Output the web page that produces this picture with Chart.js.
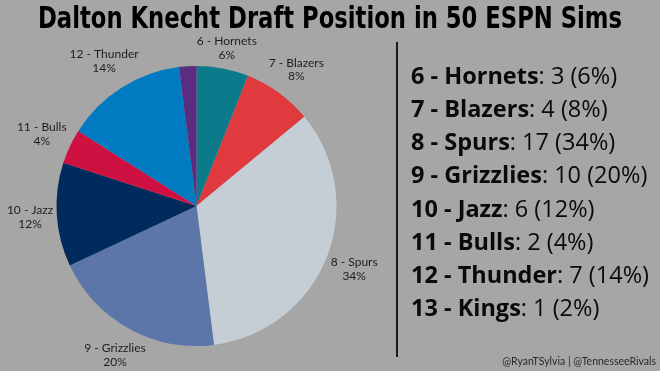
<!DOCTYPE html>
<html>
<head>
<meta charset="utf-8">
<script src="https://cdn.jsdelivr.net/npm/chart.js@4.4.0/dist/chart.umd.min.js"></script>
<style>
  html, body { margin: 0; padding: 0; background: #a6a6a6; }
  #wrap { width: 660px; height: 371px; }
</style>
</head>
<body>
<div id="wrap"><canvas id="chart" width="660" height="371"></canvas></div>
<script>
// Draft data from 50 ESPN mock sims
const chartTitle = 'Dalton Knecht Draft Position in 50 ESPN Sims';
const picks = ['6', '7', '8', '9', '10', '11', '12', '13'];
const teams = ['Hornets', 'Blazers', 'Spurs', 'Grizzlies', 'Jazz', 'Bulls', 'Thunder', 'Kings'];
const sims = [3, 4, 17, 10, 6, 2, 7, 1];
const teamColors = ['#0b7a8a', '#e03a3e', '#c4ced4', '#5d76a9', '#002b5c', '#ce1141', '#007ac1', '#5a2d81'];
const hiddenSliceLabels = ['Kings'];
const totalSims = 50;

const pct = (v) => Math.round(v / totalSims * 100);

// title, outside labels, divider, the right-hand summary list and credit line
const extrasPlugin = {
  id: 'extras',
  afterDraw(chart) {
    const ctx = chart.ctx;
    const meta = chart.getDatasetMeta(0);

    // title (drawn here so the pie padding doesn't squeeze it)
    ctx.save();
    ctx.font = "bold 30px 'Liberation Sans Narrow', 'DejaVu Sans Condensed', sans-serif";
    ctx.fillStyle = '#000';
    ctx.textAlign = 'center';
    ctx.textBaseline = 'middle';
    ctx.fillText(chartTitle, 330, 20, 584);
    ctx.restore();

    // slice labels just outside the pie
    ctx.save();
    ctx.font = "12px Lato";
    ctx.fillStyle = '#1e1e1e';
    ctx.textAlign = 'center';
    ctx.textBaseline = 'middle';
    meta.data.forEach((arc, i) => {
      if (hiddenSliceLabels.includes(teams[i])) return;
      const p = arc.getProps(['x', 'y', 'startAngle', 'endAngle', 'outerRadius'], true);
      const mid = (p.startAngle + p.endAngle) / 2;
      const line1 = `${picks[i]} - ${teams[i]}`;
      const line2 = `${pct(sims[i])}%`;
      const halfW = Math.max(ctx.measureText(line1).width, ctx.measureText(line2).width) / 2;
      const halfH = 13;
      const c = Math.cos(mid), s = Math.sin(mid);
      const dist = p.outerRadius + 3 + Math.abs(c) * halfW + Math.abs(s) * halfH;
      const lx = p.x + c * dist, ly = p.y + s * dist;
      ctx.fillText(line1, lx, ly - 6);
      ctx.fillText(line2, lx, ly + 7.5);
    });
    ctx.restore();

    // vertical divider
    ctx.save();
    ctx.strokeStyle = '#1a1a1a';
    ctx.lineWidth = 2;
    ctx.beginPath();
    ctx.moveTo(397, 42);
    ctx.lineTo(397, 357);
    ctx.stroke();
    ctx.restore();

    // summary list
    ctx.save();
    ctx.fillStyle = '#0a0a0a';
    ctx.textBaseline = 'alphabetic';
    ctx.textAlign = 'left';
    teams.forEach((t, i) => {
      const y = 84 + i * 33.14;
      const bold = `${picks[i]} - ${t}`;
      const rest = `: ${sims[i]} (${pct(sims[i])}%)`;
      ctx.font = "bold 23.5px 'Open Sans'";
      ctx.fillText(bold, 411, y);
      const w = ctx.measureText(bold).width;
      ctx.font = "23.5px 'Open Sans'";
      ctx.fillText(rest, 411 + w, y);
    });
    ctx.restore();

    // credit
    ctx.save();
    ctx.font = "10.5px Lato";
    ctx.fillStyle = '#2a2a2a';
    ctx.textAlign = 'right';
    ctx.textBaseline = 'middle';
    ctx.fillText('@RyanTSylvia | @TennesseeRivals', 656, 362);
    ctx.restore();
  }
};

new Chart(document.getElementById('chart'), {
  type: 'pie',
  data: {
    labels: teams.map((t, i) => `${picks[i]} - ${t}`),
    datasets: [{
      data: sims,
      backgroundColor: teamColors,
      borderWidth: 0
    }]
  },
  options: {
    responsive: false,
    animation: false,
    layout: {
      padding: { left: 56, right: 323, top: 66, bottom: 25 }
    },
    plugins: {
      legend: { display: false },
      tooltip: { enabled: false },
      title: { display: false }
    }
  },
  plugins: [extrasPlugin]
});
</script>
</body>
</html>
